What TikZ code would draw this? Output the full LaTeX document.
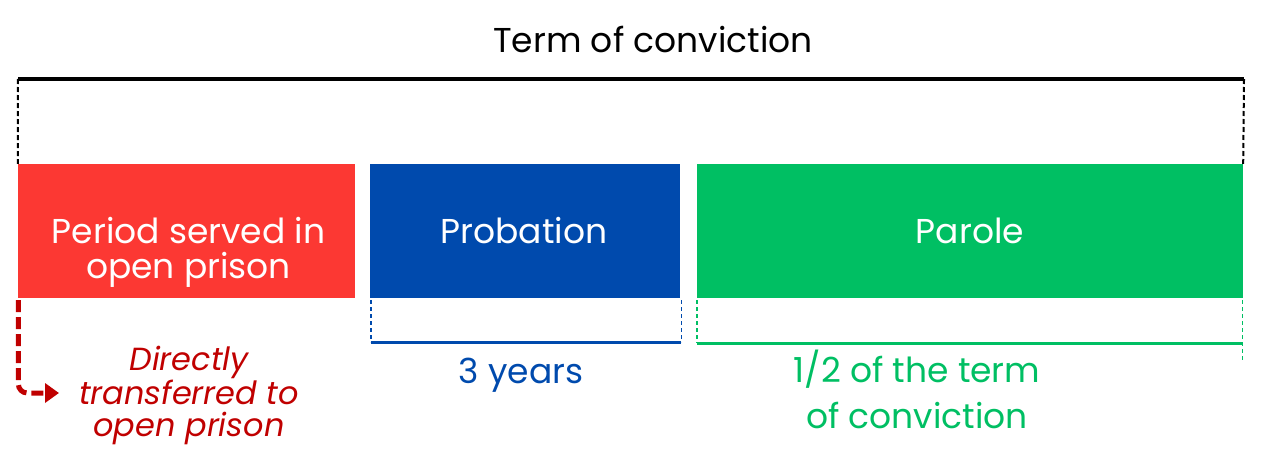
\documentclass[tikz,border=0pt]{standalone}
\usepackage{fontspec}
\setmainfont{Poppins}
\usetikzlibrary{arrows.meta,positioning,calc}
\definecolor{periodred}{RGB}{252,56,51}
\definecolor{probblue}{RGB}{0,74,173}
\definecolor{parolegreen}{RGB}{0,191,99}
\definecolor{arrowred}{RGB}{192,0,0}
\tikzset{
 phase/.style={rectangle,inner sep=0pt,minimum height=134pt},
 phasetext/.style={anchor=base,inner sep=0pt,text=white,align=center,font=\fontsize{34.5}{35}\selectfont},
 span/.style={line width=3.4pt},
 guide/.style={line width=1.4pt,dash pattern=on 4pt off 3pt},
 note/.style={anchor=base,inner sep=0pt,align=center,font=\fontsize{34.5}{46}\selectfont}}
\begin{document}
\begin{tikzpicture}[x=1pt,y=-1pt]
\useasboundingbox (0,0) rectangle (1261,463);
% the three phases
\node[phase,fill=periodred,minimum width=337pt] (period) at (186.5,231) {};
\node[phase,fill=probblue,minimum width=310pt] (probation) at (525,231) {};
\node[phase,fill=parolegreen,minimum width=546pt] (parole) at (970,231) {};
\node[phasetext] (periodtxt) at ($(period.center)+(2,47)$) {Period served in\\open prison};
\node[phasetext] (probtxt) at ($(probation.center)+(-1,12)$) {Probation};
\node[phasetext] (paroletxt) at ($(parole.center)+(0,12)$) {Parole};
% labels
\node[note] (term) at (653,52) {Term of conviction};
\node[note,text=probblue] (years) at (521,383) {3 years};
\node[note,text=parolegreen] (half) at (917,428) {1/2 of the term\\of conviction};
\node[note,text=arrowred,font=\fontsize{32}{32}\selectfont\itshape] (direct) at (189,436) {Directly\\transferred to\\open prison};
% term bracket
\coordinate (tl) at (18,79);
\coordinate (tr) at (1244,79);
\draw[span,line width=3.6pt] (tl) -- (tr);
\draw[guide,line width=2pt,dash pattern=on 5pt off 3pt] (tl) -- (period.north west);
\draw[guide,line width=2pt,dash pattern=on 5pt off 3pt] (tr) -- (parole.north east);
% probation bracket
\draw[guide,probblue] ([xshift=1pt,yshift=-2pt]probation.south west) -- ++(0,42) coordinate (pl);
\draw[guide,probblue] ([xshift=1pt,yshift=-2pt]probation.south east) -- ++(0,42) coordinate (pr);
\draw[span,probblue] (pl) -- (pr);
% parole bracket
\draw[guide,parolegreen] ([yshift=-2pt]parole.south west) -- ++(0,43) coordinate (gl);
\draw[guide,parolegreen] ([xshift=-1pt,yshift=-2pt]parole.south east) -- ++(0,62);
\draw[span,parolegreen] (gl) -- (gl -| parole.south east);
% transfer arrow
\coordinate (landing) at (59,393);
\draw[arrowred,line width=5pt,dash pattern=on 12pt off 5pt,rounded corners=9pt,-{Triangle[length=14pt,width=19pt]}]
 ([xshift=0.5pt,yshift=-2pt]period.south west) |- (landing);
\end{tikzpicture}
\end{document}
